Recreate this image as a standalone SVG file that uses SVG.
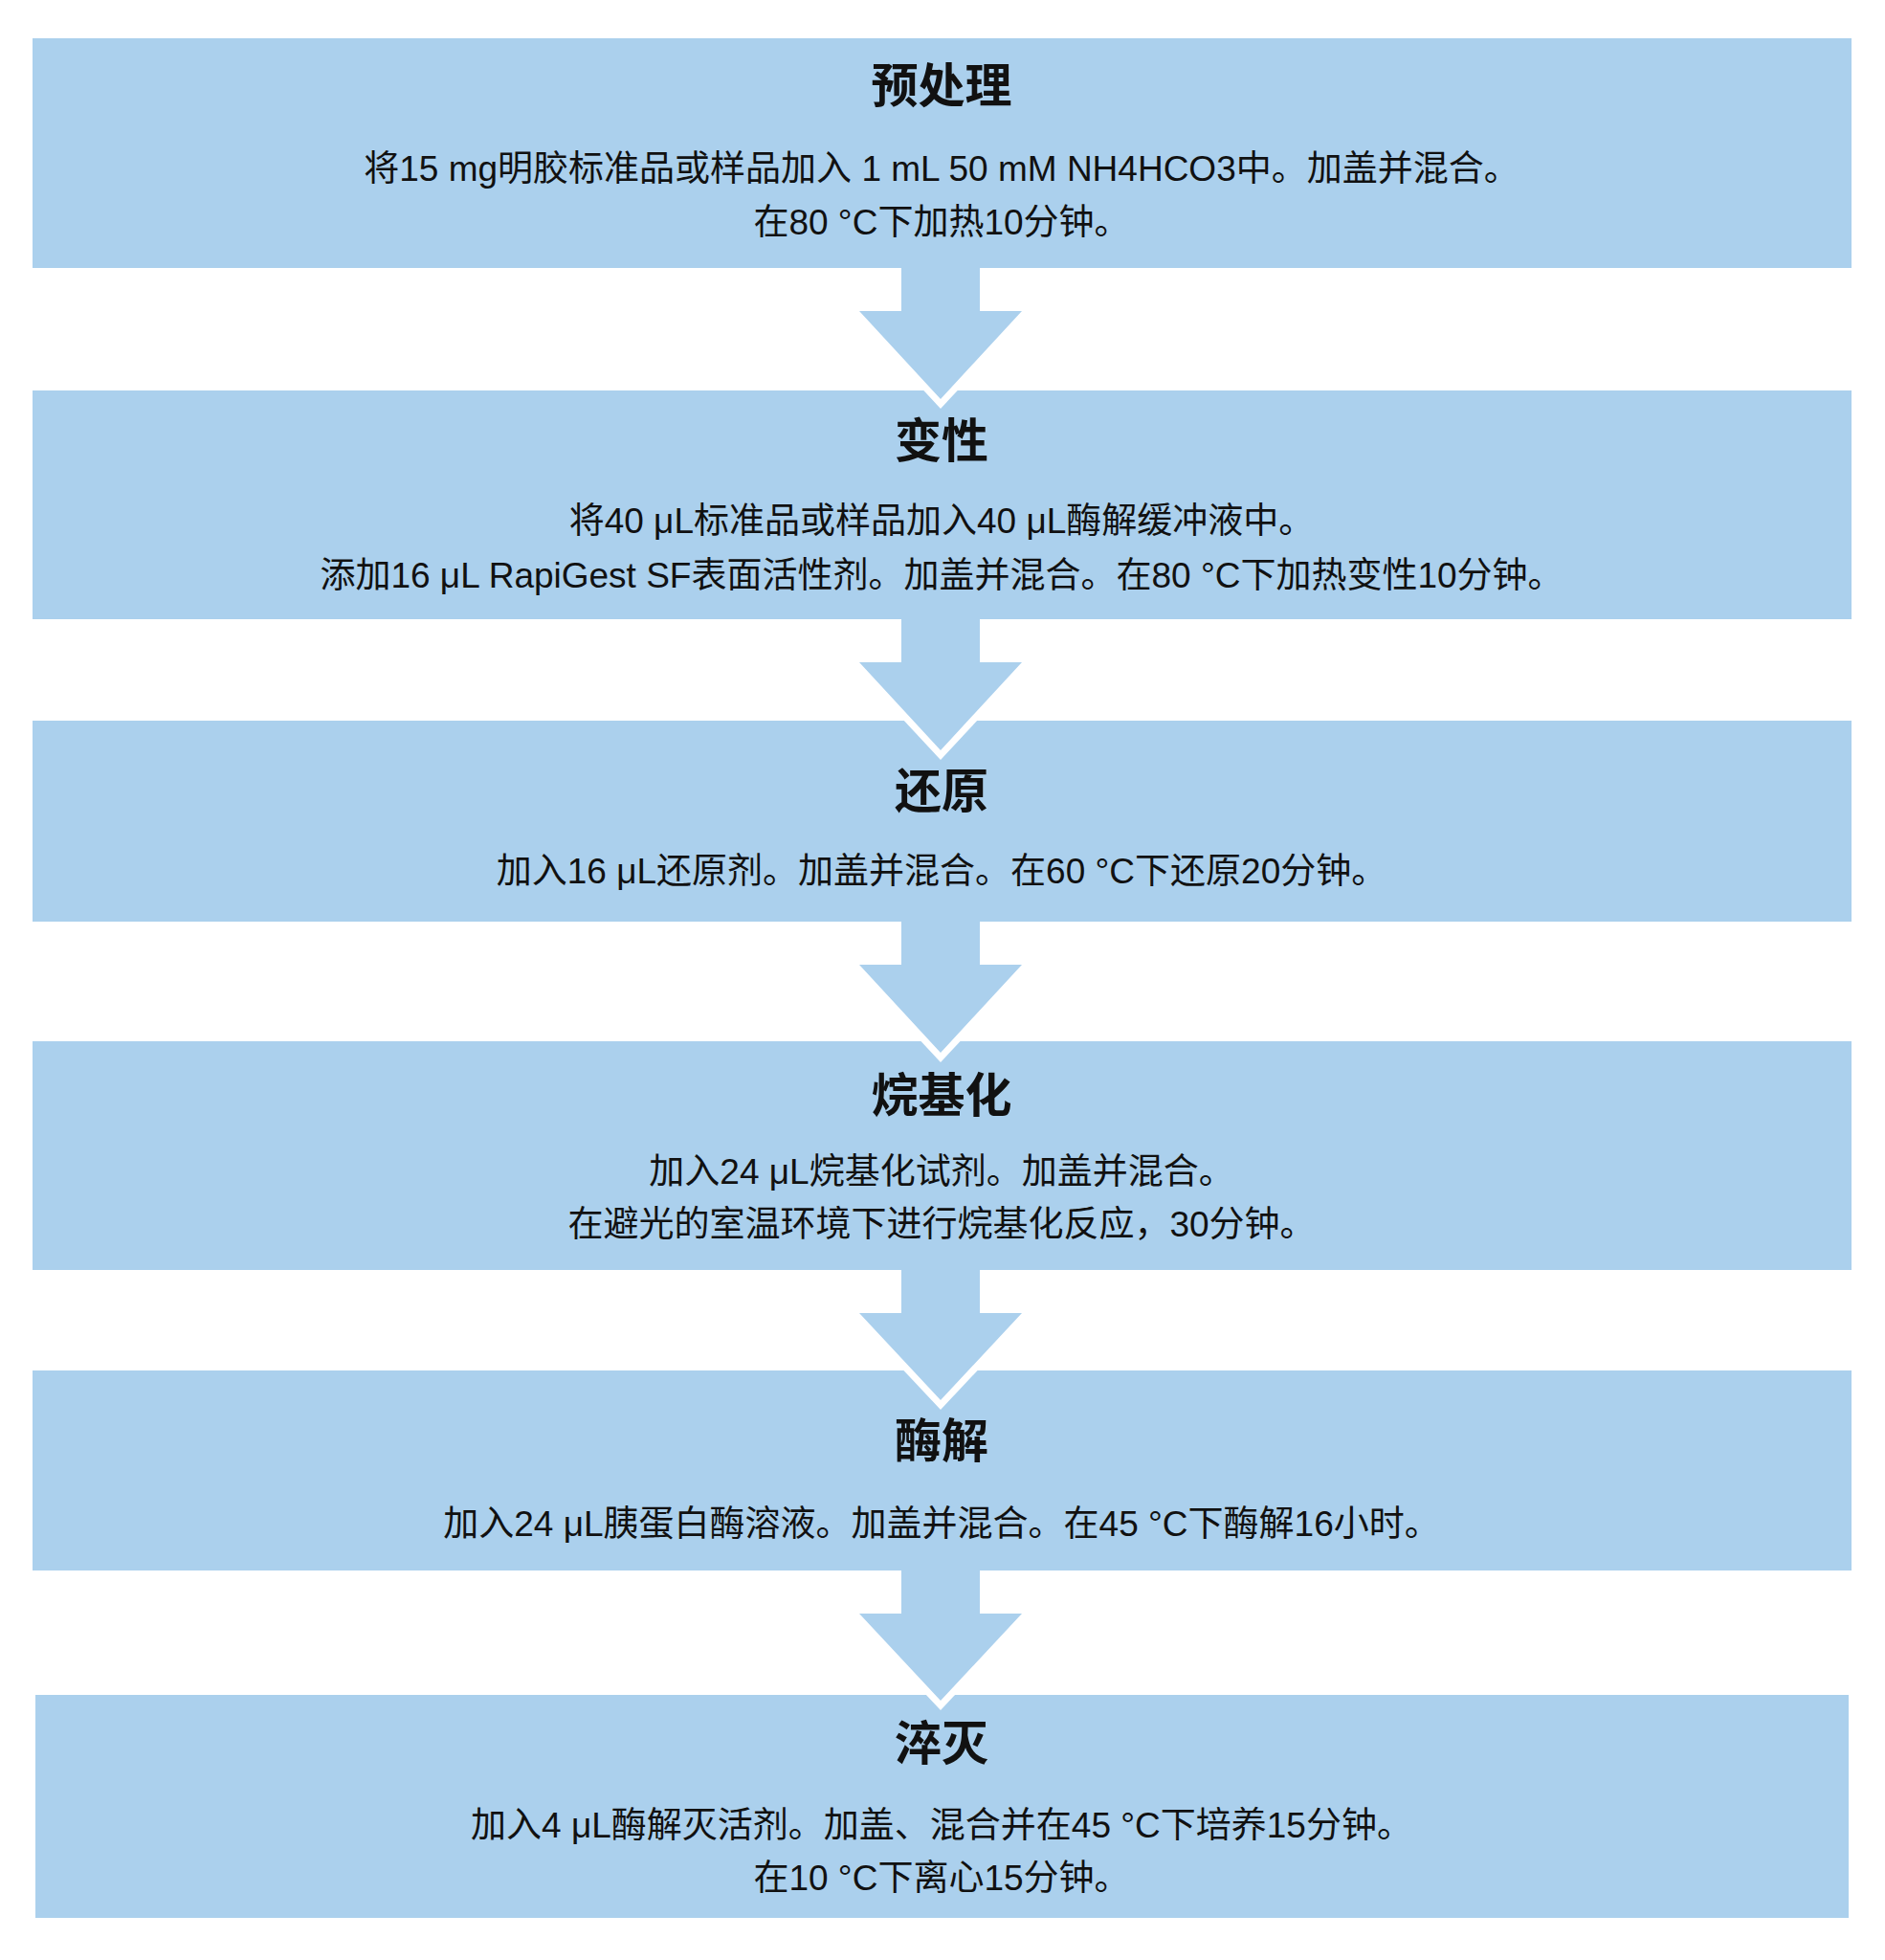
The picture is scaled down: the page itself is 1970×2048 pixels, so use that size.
<svg xmlns="http://www.w3.org/2000/svg" width="1970" height="2048" viewBox="0 0 1970 2048">
<style>
.box{fill:#abd0ed}
.t{font-family:"Liberation Sans","Noto Sans CJK SC",sans-serif;font-weight:bold;font-size:49px;fill:#111;text-anchor:middle}
.b{font-family:"Liberation Sans","Noto Sans CJK SC",sans-serif;font-size:37px;fill:#111;text-anchor:middle}
.halo{fill:#ffffff}
.arr{fill:#abd0ed}
</style>
<rect width="1970" height="2048" fill="#ffffff"/>
<g id="node-pretreat">
<rect class="box" x="34" y="40" width="1901" height="240"/>
<text class="t" x="984" y="107">预处理</text>
<text class="b" x="984" y="189">将15 mg明胶标准品或样品加入 1 mL 50 mM NH4HCO3中。加盖并混合。</text>
<text class="b" x="984" y="245">在80 °C下加热10分钟。</text>
</g>
<g id="node-denature">
<rect class="box" x="34" y="408" width="1901" height="239"/>
<text class="t" x="984" y="478">变性</text>
<text class="b" x="984" y="557">将40 μL标准品或样品加入40 μL酶解缓冲液中。</text>
<text class="b" x="984" y="614">添加16 μL RapiGest SF表面活性剂。加盖并混合。在80 °C下加热变性10分钟。</text>
</g>
<g id="node-reduce">
<rect class="box" x="34" y="753" width="1901" height="210"/>
<text class="t" x="984" y="844">还原</text>
<text class="b" x="984" y="923">加入16 μL还原剂。加盖并混合。在60 °C下还原20分钟。</text>
</g>
<g id="node-alkylate">
<rect class="box" x="34" y="1088" width="1901" height="239"/>
<text class="t" x="984" y="1162">烷基化</text>
<text class="b" x="984" y="1237">加入24 μL烷基化试剂。加盖并混合。</text>
<text class="b" x="984" y="1292">在避光的室温环境下进行烷基化反应，30分钟。</text>
</g>
<g id="node-digest">
<rect class="box" x="34" y="1432" width="1901" height="209"/>
<text class="t" x="984" y="1523">酶解</text>
<text class="b" x="984" y="1605">加入24 μL胰蛋白酶溶液。加盖并混合。在45 °C下酶解16小时。</text>
</g>
<g id="node-quench">
<rect class="box" x="37" y="1771" width="1895" height="233"/>
<text class="t" x="984" y="1839">淬灭</text>
<text class="b" x="984" y="1920">加入4 μL酶解灭活剂。加盖、混合并在45 °C下培养15分钟。</text>
<text class="b" x="984" y="1975">在10 °C下离心15分钟。</text>
</g>
<g id="connectors">
<polygon class="halo" points="888,325 1078,325 983,427"/>
<polygon class="arr" points="942,279 1024,279 1024,325 1068,325 983,417 898,325 942,325"/>
<polygon class="halo" points="888,692 1078,692 983,794"/>
<polygon class="arr" points="942,646 1024,646 1024,692 1068,692 983,784 898,692 942,692"/>
<polygon class="halo" points="888,1008 1078,1008 983,1110"/>
<polygon class="arr" points="942,962 1024,962 1024,1008 1068,1008 983,1100 898,1008 942,1008"/>
<polygon class="halo" points="888,1372 1078,1372 983,1473"/>
<polygon class="arr" points="942,1326 1024,1326 1024,1372 1068,1372 983,1463 898,1372 942,1372"/>
<polygon class="halo" points="888,1686 1078,1686 983,1787"/>
<polygon class="arr" points="942,1640 1024,1640 1024,1686 1068,1686 983,1777 898,1686 942,1686"/>
</g>
</svg>
